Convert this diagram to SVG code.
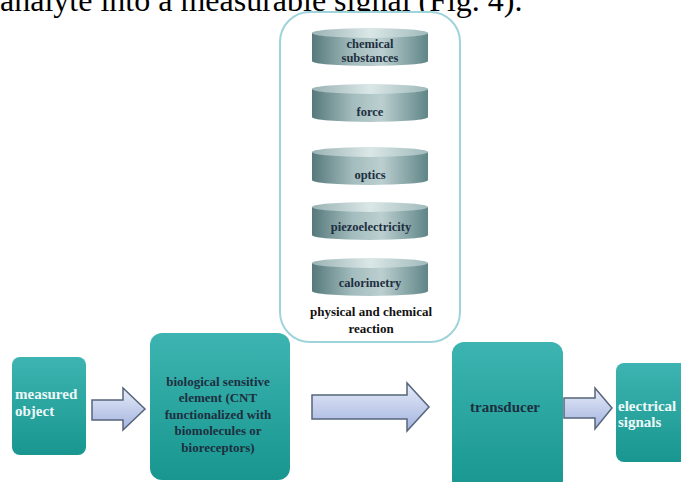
<svg xmlns="http://www.w3.org/2000/svg" width="681" height="482" viewBox="0 0 681 482">
<defs>
<linearGradient id="teal" x1="0" y1="0" x2="0" y2="1">
<stop offset="0" stop-color="#3db4b1"/>
<stop offset="1" stop-color="#18968f"/>
</linearGradient>
<linearGradient id="cyl" x1="0" y1="0" x2="1" y2="0">
<stop offset="0" stop-color="#56797c"/>
<stop offset="0.35" stop-color="#a3bcbd"/>
<stop offset="0.6" stop-color="#bccfd0"/>
<stop offset="1" stop-color="#5f8587"/>
</linearGradient>
<linearGradient id="cylTop" x1="0" y1="0" x2="1" y2="0">
<stop offset="0" stop-color="#9ab3b4"/>
<stop offset="0.5" stop-color="#dbe7e7"/>
<stop offset="1" stop-color="#a0babb"/>
</linearGradient>
<linearGradient id="arr" x1="0" y1="0" x2="0" y2="1">
<stop offset="0" stop-color="#e6ebf8"/>
<stop offset="1" stop-color="#a3b3df"/>
</linearGradient>
<symbol id="cylinder" viewBox="0 0 116 38" overflow="visible">
<path d="M0,5 L0,33 A58,5 0 0 0 116,33 L116,5 Z" fill="url(#cyl)"/>
<ellipse cx="58" cy="5" rx="58" ry="5" fill="url(#cylTop)"/>
</symbol>
</defs>
<style>
.top{font-family:"Liberation Serif","Times New Roman",serif;font-size:32px;fill:#000}
.lbl{font-family:"Liberation Serif","Times New Roman",serif;font-weight:bold;font-size:12.5px;text-anchor:middle}
.bio{font-size:13px}
.big{font-size:15px}
.dark{fill:#1d2f3f}
.white{fill:#eef8f8}
.box{fill:url(#teal)}
.arrow{fill:url(#arr);stroke:#56657a;stroke-width:1.5;stroke-linejoin:miter}
</style>
<rect width="681" height="482" fill="#ffffff"/>
<text class="top" x="0" y="11">analyte into a measurable signal (Fig. 4).</text>

<g id="reaction-panel">
<rect x="280" y="12" width="180" height="330" rx="30" ry="30" fill="#ffffff" stroke="#9fd3da" stroke-width="2"/>
<text class="lbl" x="371" y="316" fill="#111" style="font-size:13px">physical and chemical</text>
<text class="lbl" x="371" y="333" fill="#111" style="font-size:13px">reaction</text>
</g>
<g id="chemical-substances">
<use href="#cylinder" x="312" y="28" width="116" height="38"/>
<text class="lbl dark" x="370" y="48">chemical</text>
<text class="lbl dark" x="370" y="62">substances</text>
</g>
<g id="force">
<use href="#cylinder" x="312" y="84" width="116" height="38"/>
<text class="lbl dark" x="370" y="116">force</text>
</g>
<g id="optics">
<use href="#cylinder" x="312" y="147" width="116" height="38"/>
<text class="lbl dark" x="370" y="179">optics</text>
</g>
<g id="piezoelectricity">
<use href="#cylinder" x="312" y="202" width="116" height="38"/>
<text class="lbl dark" x="371" y="231">piezoelectricity</text>
</g>
<g id="calorimetry">
<use href="#cylinder" x="312" y="258" width="116" height="38"/>
<text class="lbl dark" x="370" y="287">calorimetry</text>
</g>

<g id="measured-object">
<rect class="box" x="12" y="357" width="74" height="98" rx="8"/>
<text class="lbl big white" x="15" y="399" style="text-anchor:start">measured</text>
<text class="lbl big white" x="15" y="416" style="text-anchor:start">object</text>
</g>
<g id="biological-element">
<rect class="box" x="150" y="333" width="140" height="147" rx="12"/>
<text class="lbl bio dark" x="218" y="386">biological sensitive</text>
<text class="lbl bio dark" x="218" y="402">element (CNT</text>
<text class="lbl bio dark" x="218" y="419">functionalized with</text>
<text class="lbl bio dark" x="218" y="435">biomolecules or</text>
<text class="lbl bio dark" x="218" y="452">bioreceptors)</text>
</g>
<g id="transducer">
<rect class="box" x="452" y="342" width="111" height="150" rx="12"/>
<text class="lbl big dark" x="505" y="412">transducer</text>
</g>
<g id="electrical-signals">
<rect class="box" x="616" y="363" width="75" height="99" rx="8"/>
<text class="lbl big white" x="618" y="411" style="text-anchor:start">electrical</text>
<text class="lbl big white" x="618" y="427" style="text-anchor:start">signals</text>
</g>

<g id="connectors">
<path class="arrow" d="M92,400 L123,400 L123,388 L145,409 L123,430 L123,420 L92,420 Z"/>
<path class="arrow" d="M312,395 L407,395 L407,383 L429,407 L407,431 L407,419 L312,419 Z"/>
<path class="arrow" d="M564,398 L595,398 L595,388 L612,408 L595,429 L595,418 L564,418 Z"/>
</g>
</svg>
